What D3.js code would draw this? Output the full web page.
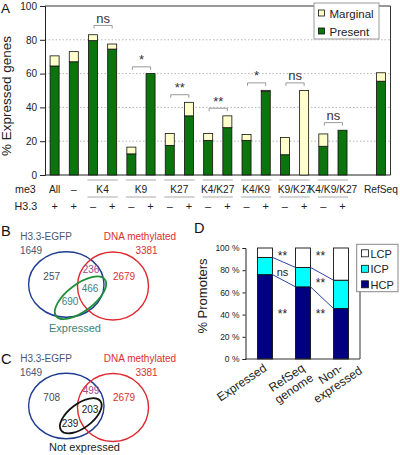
<!DOCTYPE html>
<html><head><meta charset="utf-8">
<script src="https://cdn.jsdelivr.net/npm/d3@7"></script>
<style>body{margin:0;background:#fff}svg text{font-family:"Liberation Sans",Arial,Helvetica,sans-serif}</style>
</head><body><svg id="c" width="400" height="455"></svg>
<script>
// ---------- DATA ----------
// Panel A
const me3Groups = ["All","–","K4","K9","K27","K4/K27","K4/K9","K9/K27","K4/K9/K27","RefSeq"];
const me3GroupBars = [[0],[1],[2,3],[4,5],[6,7],[8,9],[10,11],[12,13],[14,15],[16]];
const h33Signs = ["+","+","–","+","–","+","–","+","–","+","–","+","–","+","–","+",""];
const barSlots = [0,1,2,3,4,5,6,7,8,9,10,11,12,13,14,15,17];
const presentPct = [64.5,67,79.5,74.5,12.5,60,17.5,35,20.5,28,20.5,49.5,12,0,17,26.5,55.5];
const marginalPct = [6,6,3.5,3,4,0,7,8,4,7,3.5,0.6,10.2,50,7.3,0,5];
const seriesNames = ["Marginal","Present"];
const sigPairs = [[2,3],[4,5],[6,7],[8,9],[10,11],[12,13],[14,15]];
const sigLabels = ["ns","*","**","**","*","ns","ns"];
const sigLevels = [88.5,64,47.5,39.5,54.5,54.5,31];
const yTicksA = [0,20,40,60,80,100];
// Panel B / C
const vennSetNames = ["H3.3-EGFP","DNA methylated"];
const vennSetTotals = [1649,3381];
const vennBCounts = [257,236,2679,466,690];   // H3.3 only, H3.3∩meth, meth only, H3.3∩meth∩expr, H3.3∩expr
const vennCCounts = [708,499,2679,203,239];
const vennBThird = "Expressed";
const vennCThird = "Not expressed";
// Panel D
const dCats = ["Expressed","RefSeq\ngenome","Non-\nexpressed"];
const hcpPct = [76,65,45.5];
const icpPct = [15.5,17.5,25.5];
const lcpPct = hcpPct.map((h,i)=>100-h-icpPct[i]);
const dSeries = ["LCP","ICP","HCP"];
const yTicksD = [0,20,40,60,80,100];
const dAnnotPair = [0,0,0,1,1,1];
const dAnnotText = ["**","ns","**","**","**","**"];
const dAnnotLevel = [89,75,36.5,89,65,36.5];

// ---------- DRAW ----------
const svg = d3.select("#c");
const colPresent = "#0d740d", colMarginal = "#ffffcc";

// ===== Panel A =====
const A = {l:45, r:390.5, t:6, b:175};
const xA = d3.scaleBand().domain(d3.range(18)).range([A.l, A.r]).paddingInner(0.53).paddingOuter(0.265);
const yA = d3.scaleLinear().domain([0,100]).range([A.b, A.t]);
const bw = xA.bandwidth();
const cx = i => xA(barSlots[i]) + bw/2;
const gA = svg.append("g");
gA.selectAll("line.grid").data(yTicksA.filter(d=>d>0&&d<100)).join("line")
  .attr("x1",A.l).attr("x2",A.r).attr("y1",d=>yA(d)).attr("y2",d=>yA(d))
  .attr("stroke","#b5b5b5").attr("stroke-dasharray","1.5,2");
gA.append("path").attr("d",`M${A.l},${A.t}H${A.r}V${A.b}`).attr("fill","none").attr("stroke","#333");
const axA = gA.append("g").attr("transform",`translate(${A.l},0)`)
  .call(d3.axisLeft(yA).tickValues(yTicksA).tickSize(5).tickPadding(3));
axA.select(".domain").attr("stroke","#222");
axA.selectAll(".tick line").attr("stroke","#222");
axA.selectAll("text").attr("font-size",10).attr("fill","#222").style("font-family",'"Liberation Sans",Arial,sans-serif');
gA.append("line").attr("x1",A.l).attr("x2",A.r).attr("y1",A.b).attr("y2",A.b).attr("stroke","#222");
// bars
const barsA = gA.append("g");
barsA.selectAll("rect.p").data(presentPct).join("rect")
  .attr("x",(d,i)=>xA(barSlots[i])).attr("width",bw)
  .attr("y",d=>yA(d)).attr("height",d=>yA(0)-yA(d))
  .attr("fill",colPresent).attr("stroke","#111").attr("stroke-width",0.8);
barsA.selectAll("rect.m").data(marginalPct).join("rect")
  .attr("x",(d,i)=>xA(barSlots[i])).attr("width",bw)
  .attr("y",(d,i)=>yA(presentPct[i]+d)).attr("height",(d,i)=>yA(presentPct[i])-yA(presentPct[i]+d))
  .attr("fill",colMarginal).attr("stroke","#111").attr("stroke-width",0.8);
// significance brackets
sigPairs.forEach((p,k)=>{
  const x1 = cx(p[0])+1, x2 = cx(p[1]), y = yA(sigLevels[k]);
  gA.append("path").attr("d",`M${x1},${y+3}V${y}H${x2}V${y+3}`).attr("fill","none").attr("stroke","#999").attr("stroke-width",1);
  gA.append("text").attr("x",(x1+x2)/2).attr("y",y-2.5).attr("text-anchor","middle")
    .attr("font-size",13).attr("fill","#333").text(sigLabels[k]);
});
// legend A
const lgA = gA.append("g");
lgA.append("rect").attr("x",314).attr("y",3).attr("width",65).attr("height",36).attr("fill","#fff").attr("stroke","#999");
seriesNames.forEach((s,i)=>{
  lgA.append("rect").attr("x",318.5).attr("y",10+i*18).attr("width",6).attr("height",6)
    .attr("fill",i===0?colMarginal:colPresent).attr("stroke","#111").attr("stroke-width",0.8);
  lgA.append("text").attr("x",329.5).attr("y",17.5+i*18).attr("font-size",11.5).attr("fill","#222").text(s);
});
// me3 / H3.3 rows
const rowFs = 10.2;
gA.append("text").attr("x",15).attr("y",193).attr("font-size",rowFs+0.5).attr("fill","#222").text("me3");
gA.append("text").attr("x",14.5).attr("y",210).attr("font-size",rowFs+0.5).attr("fill","#222").text("H3.3");
me3Groups.forEach((g,k)=>{
  const bars = me3GroupBars[k];
  const mid = (cx(bars[0])+cx(bars[bars.length-1]))/2;
  gA.append("text").attr("x",mid).attr("y",193).attr("text-anchor","middle").attr("font-size",rowFs).attr("fill","#222").text(g);
  if(bars.length===2){
    const xl = xA(barSlots[bars[0]])-1, xr = xA(barSlots[bars[1]])+bw+1;
    [180,197].forEach(yy=>gA.append("line").attr("x1",xl).attr("x2",xr).attr("y1",yy).attr("y2",yy).attr("stroke","#aaa"));
  }
});
h33Signs.forEach((s,i)=>{
  gA.append("text").attr("x",cx(i)).attr("y",210).attr("text-anchor","middle").attr("font-size",11).attr("fill","#222").text(s);
});
svg.append("text").attr("x",1).attr("y",12.5).attr("font-size",13.5).attr("fill","#111").text("A");
svg.append("text").attr("transform","translate(11,96) rotate(-90)").attr("text-anchor","middle")
  .attr("font-size",13.5).attr("fill","#222").text("% Expressed genes");

// ===== Panel B & C (Venn) =====
function venn(dy, counts, third, thirdCol, ell, letter, letterY){
  const g = svg.append("g").attr("transform",`translate(0,${dy})`);
  g.append("ellipse").attr("cx",66.3).attr("cy",284.5).attr("rx",37.7).attr("ry",32.7).attr("fill","none").attr("stroke","#1f3d90").attr("stroke-width",1.4);
  g.append("ellipse").attr("cx",113).attr("cy",286).attr("rx",35.5).attr("ry",34).attr("fill","none").attr("stroke","#e0282e").attr("stroke-width",1.4);
  g.append("ellipse").attr("transform",`translate(${ell.cx},${ell.cy}) rotate(-37)`).attr("rx",ell.a).attr("ry",ell.b)
    .attr("fill","none").attr("stroke",thirdCol).attr("stroke-width",1.8);
  const T = (x,y,t,c,fs=10)=>g.append("text").attr("x",x).attr("y",y).attr("text-anchor","middle").attr("font-size",fs).attr("fill",c).text(t);
  T(46,240,vennSetNames[0],"#4d5670");
  T(31,254,vennSetTotals[0],"#4d5670");
  T(140,240,vennSetNames[1],"#d9302f");
  T(146.5,254,vennSetTotals[1],"#d9302f");
  T(51.7,279.5,counts[0],"#4a4a55");
  T(91,272.5,counts[1],"#9b4a8f");
  T(124,279.5,counts[2],"#d9302f");
  T(90,291.7,counts[3],ell.numCol);
  T(70,305,counts[4],ell.numCol);
  T(ell.tx,ell.ty,third,ell.numCol,11);
  svg.append("text").attr("x",1).attr("y",letterY).attr("font-size",14.5).attr("fill","#111").text(letter);
}
venn(0, vennBCounts, vennBThird, "#1f8f3a", {cx:80.5,cy:297.8,a:30.5,b:13.5,numCol:"#3f7f78",tx:75,ty:332}, "B", 235.5);
venn(121.5, vennCCounts, vennCThird, "#111", {cx:80.8,cy:294.3,a:24.5,b:12,numCol:"#1a1a1a",tx:84.5,ty:329.3}, "C", 363.5);

// ===== Panel D =====
const D = {l:245.5, r:360, t:248, b:359};
const xD = d3.scaleBand().domain(dCats).range([D.l+0.5, D.r]).paddingInner(0.605).paddingOuter(0.3025);
const yD = d3.scaleLinear().domain([0,100]).range([D.b, D.t]);
const gD = svg.append("g");
const bwD = xD.bandwidth();
const stacks = [hcpPct, icpPct, lcpPct];
const fills = ["#000080","#00ffff","#ffffff"];
dCats.forEach((c,i)=>{
  let base = 0;
  stacks.forEach((s,k)=>{
    gD.append("rect").attr("x",xD(c)).attr("width",bwD).attr("y",yD(base+s[i])).attr("height",yD(base)-yD(base+s[i]))
      .attr("fill",fills[k]).attr("stroke","#111").attr("stroke-width",0.9);
    base += s[i];
  });
});
// series lines
for(let i=0;i<dCats.length-1;i++){
  const xa = xD(dCats[i])+bwD, xb = xD(dCats[i+1]);
  [hcpPct[i],hcpPct[i]+icpPct[i]].forEach((v,k)=>{
    const v2 = k===0?hcpPct[i+1]:hcpPct[i+1]+icpPct[i+1];
    gD.append("line").attr("x1",xa).attr("x2",xb).attr("y1",yD(v)).attr("y2",yD(v2)).attr("stroke","#2a45a0").attr("stroke-width",1);
  });
}
gD.append("path").attr("d",`M${D.l},${D.b}H${D.r}V${D.t}`).attr("fill","none").attr("stroke","#333");
const axD = gD.append("g").attr("transform",`translate(${D.l},0)`)
  .call(d3.axisLeft(yD).tickValues(yTicksD).tickSize(3).tickPadding(3).tickFormat(d=>d+" %"));
axD.select(".domain").attr("stroke","#222");
axD.selectAll(".tick line").attr("stroke","#222");
axD.selectAll("text").attr("font-size",8.5).attr("fill","#222").style("font-family",'"Liberation Sans",Arial,sans-serif');
// annotations
dAnnotText.forEach((t,k)=>{
  const p = dAnnotPair[k];
  const xm = (xD(dCats[p])+bwD + xD(dCats[p+1]))/2 - 1.5;
  gD.append("text").attr("x",xm).attr("y",yD(dAnnotLevel[k])).attr("text-anchor","middle")
    .attr("font-size",t==="ns"?11:12).attr("fill","#222").text(t);
});
// legend D
const lgD = gD.append("g");
lgD.append("rect").attr("x",356.7).attr("y",244.3).attr("width",41.3).attr("height",47.4).attr("fill","#fff").attr("stroke","#888");
dSeries.forEach((s,i)=>{
  lgD.append("rect").attr("x",361.5).attr("y",249.8+i*15.5).attr("width",7).attr("height",7)
    .attr("fill",fills[2-i]).attr("stroke","#111").attr("stroke-width",0.8);
  lgD.append("text").attr("x",370.5).attr("y",257.5+i*15.5).attr("font-size",11).attr("fill","#222").text(s);
});
// x labels rotated: first line ends at the bar centre, further lines centred on it
dCats.forEach(c=>{
  const lines = c.split("\n");
  const g = gD.append("g").attr("transform",`translate(${xD(c)+bwD/2-2.5},${362.5}) rotate(-34)`);
  const ts = lines.map((l,j)=>g.append("text").attr("y",9+j*13).attr("font-size",12).attr("fill","#222").text(l));
  const w0 = ts[0].node().getComputedTextLength();
  ts.forEach(t=>t.attr("x",-w0/2).attr("text-anchor","middle"));
});
svg.append("text").attr("x",194).attr("y",233).attr("font-size",14.5).attr("fill","#111").text("D");
svg.append("text").attr("transform","translate(206.5,296) rotate(-90)").attr("text-anchor","middle")
  .attr("font-size",13).attr("fill","#222").text("% Promoters");
</script></body></html>
